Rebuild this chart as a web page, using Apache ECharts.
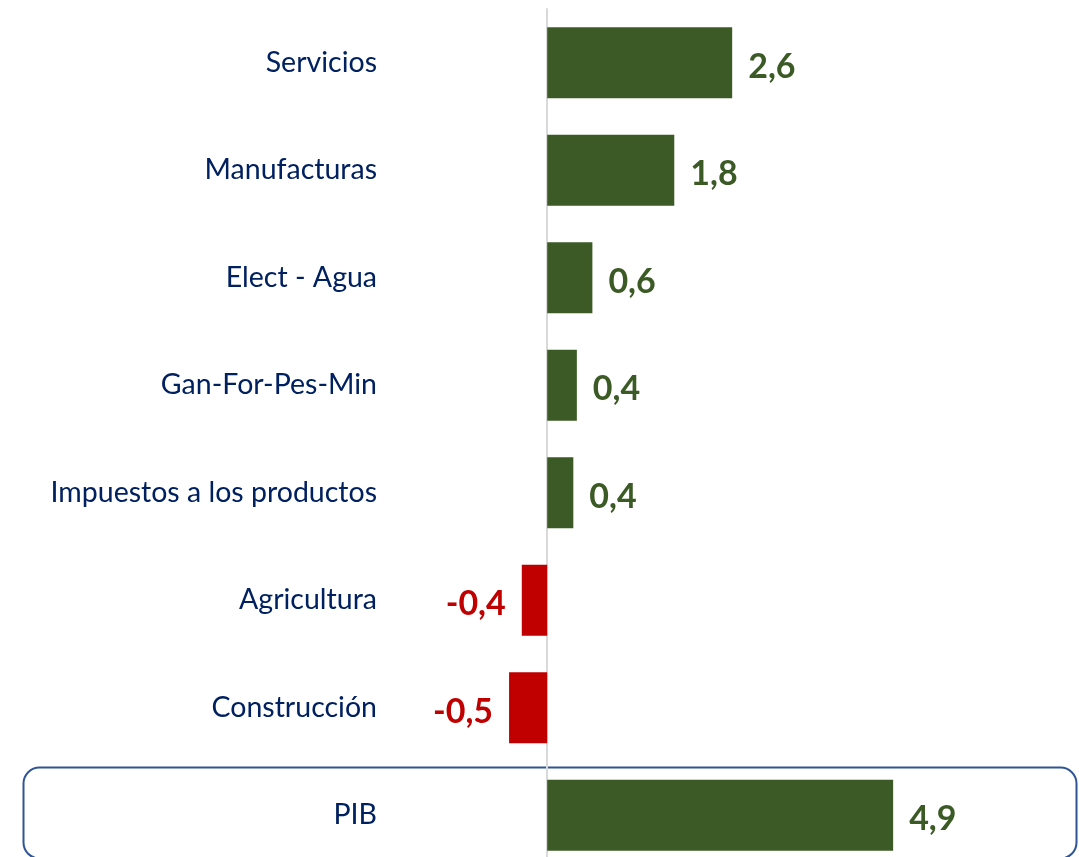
<!DOCTYPE html>
<html>
<head>
<meta charset="utf-8">
<script src="https://cdn.jsdelivr.net/npm/echarts@6/dist/echarts.min.js"></script>
<style>
  html, body { margin: 0; padding: 0; background: #fff; }
  #chart { width: 1079px; height: 857px; }
</style>
</head>
<body>
<div id="chart"></div>
<script>
// sectores y aporte al crecimiento (puntos porcentuales)
var sectores = ['Servicios', 'Manufacturas', 'Elect - Agua', 'Gan-For-Pes-Min',
  'Impuestos a los productos', 'Agricultura', 'Construcción', 'PIB'];
var aportes = [2.62, 1.8, 0.64, 0.42, 0.37, -0.36, -0.54, 4.9];

var verde = '#3b5a25';
var rojo = '#c00000';
var azul = '#002060';

var myChart = echarts.init(document.getElementById('chart'));

myChart.setOption({
  animation: false,
  grid: {
    left: 406,
    width: 706,
    top: 9,
    height: 860,
    containLabel: false,
    outerBoundsMode: 'none'
  },
  xAxis: {
    type: 'value',
    min: -2,
    max: 8,
    show: false,
    splitLine: { show: false }
  },
  yAxis: {
    type: 'category',
    inverse: true,
    data: sectores,
    axisLine: {
      onZero: true,
      lineStyle: { color: '#d9d9d9', width: 2 }
    },
    axisTick: { show: false },
    axisLabel: {
      margin: 29,
      color: azul,
      fontSize: 28.5,
      fontFamily: 'Lato',
      padding: [3, 0, 0, 0]
    }
  },
  graphic: [{
    type: 'rect',
    left: 21,
    top: 765,
    shape: { width: 1053, height: 91, r: 16 },
    style: { fill: 'none', stroke: '#2f5597', lineWidth: 2 },
    z: 0
  }],
  series: [{
    type: 'bar',
    barWidth: 71,
    data: aportes.map(function (v) {
      return {
        value: v,
        itemStyle: { color: v < 0 ? rojo : verde },
        label: {
          position: v < 0 ? 'left' : 'right',
          color: v < 0 ? rojo : verde
        }
      };
    }),
    label: {
      show: true,
      distance: 16,
      fontSize: 34,
      fontWeight: 'bold',
      fontFamily: 'Lato',
      offset: [0, 4],
      formatter: function (p) {
        return p.value.toFixed(1).replace('.', ',');
      }
    }
  }]
});
</script>
</body>
</html>
